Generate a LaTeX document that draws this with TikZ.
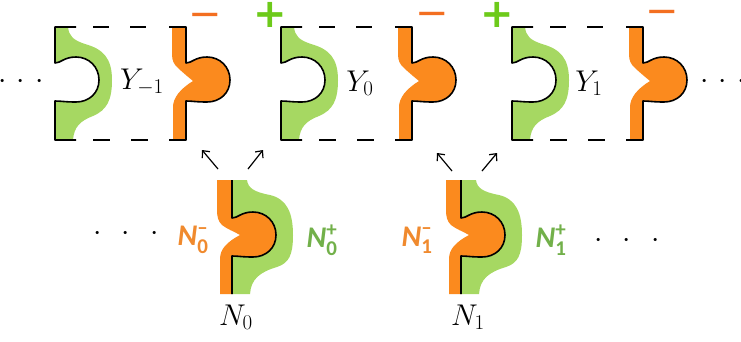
\RequirePackage{fix-cm}
\documentclass[tikz,border=0pt]{standalone}
\usepackage{amsmath}
\usepackage{fontspec}
\newfontfamily\carl{Carlito}
\newfontfamily\djv{DejaVu Sans}
\usetikzlibrary{arrows.meta}
\definecolor{pgreen}{HTML}{A6D862}
\definecolor{porange}{HTML}{FB8A1E}
\definecolor{plusgreen}{HTML}{6DCA1A}
\definecolor{minusorange}{HTML}{F36F21}
\definecolor{labgreen}{HTML}{72B04A}
\definecolor{laborange}{HTML}{F08A2E}
\newcommand\bulbfwd{.. controls (6,-17) and (9,-23) .. (21,-23) .. controls (34,-23) and (44,-13) .. (44,0) .. controls (44,13) and (34,22) .. (21,22) .. controls (10,22) and (6,21) .. (0,21)}
\newcommand\bulbrev{.. controls (6,21) and (10,22) .. (21,22) .. controls (34,22) and (44,13) .. (44,0) .. controls (44,-13) and (34,-23) .. (21,-23) .. controls (9,-23) and (6,-17) .. (0,-17)}
\newcommand\ycell[1]{%
\begin{scope}[shift={(#1,80)}]
  \fill[pgreen] (0,-53) -- (13,-53) .. controls (14,-44) and (18,-40) .. (30,-36) .. controls (48,-31) and (57,-22) .. (57,0) .. controls (57,20) and (52,30) .. (38,36) .. controls (25,41) and (19,47) .. (18,60) -- (0,60) -- (0,21) \bulbrev -- cycle;
  \begin{scope}[shift={(131,0)}]
    \fill[porange] (-14,-53) -- (0,-53) -- (0,-17) \bulbfwd -- (0,60) -- (-13,60) -- (-13,27) .. controls (-13,18) and (-6,9) .. (7,1) .. controls (1,-4) and (-5,-9) .. (-9,-13) .. controls (-12,-16) and (-14,-19) .. (-14,-26) -- cycle;
    \draw[pline] (-17,-53) -- (0,-53) -- (0,-17) \bulbfwd -- (0,60) -- (-17,60);
  \end{scope}
  \draw[pline] (21,-53) -- (0,-53) -- (0,-17) \bulbfwd -- (0,60) -- (21,60);
  \draw[pline] (38,-53) -- (54,-53) (75,-53) -- (91,-53)
               (38,60) -- (55,60) (76,60) -- (93,60);
\end{scope}}
\newcommand\npiece[2]{%
\begin{scope}[shift={(#1,#2)}]
  \fill[porange] (-15,-55) -- (0,-55) -- (0,-17) \bulbfwd -- (0,59) -- (-12,59) -- (-12,24) .. controls (-12,14) and (-5,7) .. (8,0) .. controls (1,-4) and (-5,-6) .. (-10,-10) .. controls (-14,-14) and (-15,-18) .. (-15,-26) -- cycle;
  \fill[pgreen] (0,-55) -- (15,-55) .. controls (16,-47) and (22,-43) .. (38,-40) .. controls (55,-36) and (61,-22) .. (61,0) .. controls (61,20) and (57,28) .. (45,32) .. controls (28,37) and (19,44) .. (18,59) -- (0,59) -- (0,21) \bulbrev -- cycle;
  \draw[pline] (0,-55) -- (0,-17) \bulbfwd -- (0,59);
\end{scope}}
\begin{document}
\begin{tikzpicture}[x=1pt,y=-1pt,
  pline/.style={line width=1.6pt,line join=round},
  lab/.style={inner sep=0pt,font=\fontsize{30}{36}\selectfont},
  dots/.style={inner sep=0pt,anchor=base,font=\fontsize{30}{36}\selectfont},
  plussign/.style={inner sep=0pt,anchor=base,text=plusgreen,font=\djv\bfseries\fontsize{40}{44}\selectfont},
  minussign/.style={inner sep=0pt,anchor=base,text=minusorange,font=\djv\fontsize{40}{44}\selectfont},
  nlab/.style={inner sep=0pt,font=\carl\bfseries\fontsize{30}{36}\selectfont},
  arr/.style={line width=1.2pt,-{Straight Barb[length=5.5pt,width=10pt]}}]
\path[use as bounding box] (0,0) rectangle (741,341);
\ycell{55}
\ycell{281}
\ycell{512}
\npiece{232}{235}
\npiece{461}{235}
% labels
\node[lab] (ym1) at (142,82) {$Y_{-1}$};
\node[lab] (y0) at (360,83) {$Y_0$};
\node[lab] (y1) at (589,83) {$Y_1$};
\node[lab] (n0) at (236,317) {$N_0$};
\node[lab] (n1) at (468,317) {$N_1$};
\node[nlab,text=laborange] (n0m) at (193,240) {$\text{\itshape N}^{\text{–}}_{\text{0}}$};
\node[nlab,text=labgreen] (n0p) at (322,240) {$\text{\itshape N}^{\text{+}}_{\text{0}}$};
\node[nlab,text=laborange] (n1m) at (417,240) {$\text{\itshape N}^{\text{–}}_{\text{1}}$};
\node[nlab,text=labgreen] (n1p) at (551,240) {$\text{\itshape N}^{\text{+}}_{\text{1}}$};
% signs
\node[minussign] (sm1) at (205,27) {\smash{\symbol{"2212}}};
\node[minussign] (sm2) at (432,26) {\smash{\symbol{"2212}}};
\node[minussign] (sm3) at (662,24) {\smash{\symbol{"2212}}};
\node[plussign] (sp1) at (270,27) {\smash{+}};
\node[plussign] (sp2) at (497,27) {\smash{+}};
% dots
\node[dots] (dtl) at (21,88.5) {$\cdotp\hspace{5pt}\cdotp\hspace{5pt}\cdotp$};
\node[dots] (dtr) at (723,88.5) {$\cdotp\hspace{5pt}\cdotp\hspace{5pt}\cdotp$};
\node[dots] (dbl) at (126,240.5) {$\cdotp\hspace{15pt}\cdotp\hspace{15pt}\cdotp$};
\node[dots] (dbr) at (627,247.5) {$\cdotp\hspace{15pt}\cdotp\hspace{15pt}\cdotp$};
% arrows
\coordinate (a0ls) at (218,169); \coordinate (a0lt) at (202,150);
\coordinate (a0rs) at (248,169); \coordinate (a0rt) at (263,150);
\coordinate (a1ls) at (452,171); \coordinate (a1lt) at (437,153);
\coordinate (a1rs) at (482,171); \coordinate (a1rt) at (497,153);
\draw[arr] (a0ls) -- (a0lt);
\draw[arr] (a0rs) -- (a0rt);
\draw[arr] (a1ls) -- (a1lt);
\draw[arr] (a1rs) -- (a1rt);
\end{tikzpicture}
\end{document}
